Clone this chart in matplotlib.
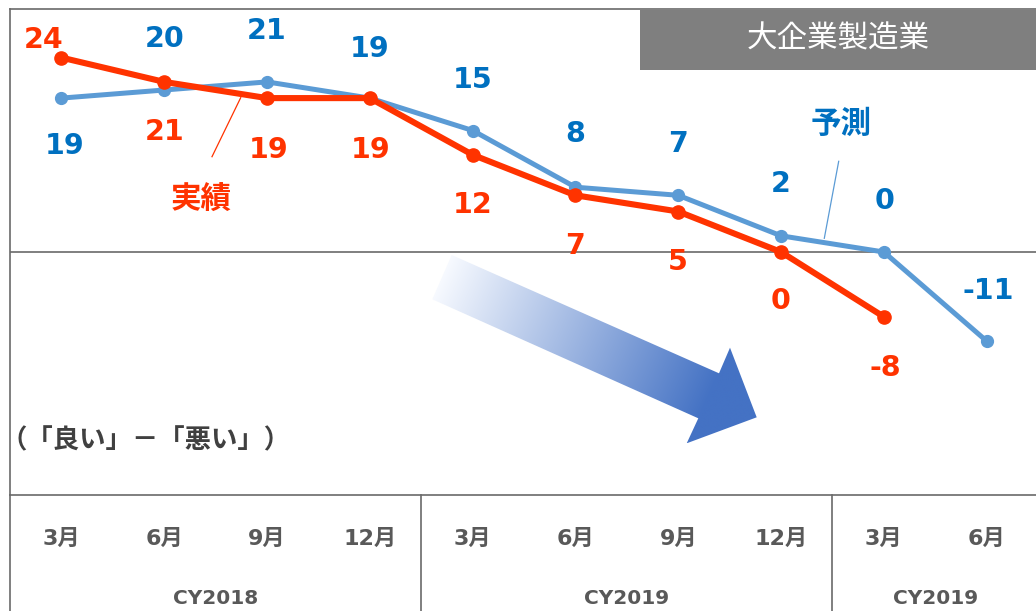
import numpy as np
import matplotlib
matplotlib.use("Agg")
import matplotlib.pyplot as plt
from matplotlib.patches import Polygon, Rectangle
from matplotlib.transforms import blended_transform_factory
from matplotlib.colors import to_rgb

plt.rcParams['font.family'] = ['DejaVu Sans', 'Noto Sans CJK JP']

# ---------------- data ----------------
months = ["3月", "6月", "9月", "12月", "3月", "6月", "9月", "12月", "3月", "6月"]
years = ["CY2018", "CY2019", "CY2019"]
year_spans = [(0, 3), (4, 7), (8, 9)]
actual = [24, 21, 19, 19, 12, 7, 5, 0, -8]
forecast = [19, 20, 21, 19, 15, 8, 7, 2, 0, -11]
title = "大企業製造業"
actual_name = "実績"
forecast_name = "予測"
y_note = "（「良い」－「悪い」）"

# ---------------- style ----------------
RED = "#FF3300"
BLUE_LINE = "#5B9BD5"
BLUE_TXT = "#0070C0"
GRID = "#6A6A6A"
TXT = "#595959"

# label offsets in pixels (dx, dy up)
act_off = [(-18, 18), (0, -50), (2, -52), (1, -52), (0, -50), (0, -51), (0, -51), (0, -49), (1, -51)]
fc_off = [(3, -48), (0, 51), (0, 51), (0, 49), (0, 51), (0, 53), (0, 51), (0, 52), (1, 51), (2, 50)]

W, H = 1036, 611
fig = plt.figure(figsize=(W / 100, H / 100), dpi=100)

# overlay for shapes in pixel coordinates
ov = fig.add_axes([0, 0, 1, 1], zorder=0)
ov.set_xlim(0, W)
ov.set_ylim(H, 0)
ov.axis('off')

ax = fig.add_axes([10 / W, (H - 495) / H, (W - 10) / W + 0.002, 486 / H], zorder=1)
ax.set_facecolor('none')
n = len(months)
ax.set_xlim(-0.5, n - 0.5)
ax.set_ylim(-30, 30)

x = np.arange(n)
ax.plot(x[:len(forecast)], forecast, color=BLUE_LINE, lw=3.6, marker='o', ms=8.5, zorder=3,
        solid_capstyle='round')
ax.plot(x[:len(actual)], actual, color=RED, lw=4.4, marker='o', ms=9.5, zorder=4,
        solid_capstyle='round')

for i, v in enumerate(actual):
    dx, dy = act_off[i]
    ax.annotate(str(v), (i, v), xytext=(dx, dy), textcoords='offset pixels',
                ha='center', va='center', color=RED, fontsize=20.5, fontweight='bold', zorder=5)
for i, v in enumerate(forecast):
    dx, dy = fc_off[i]
    ax.annotate(str(v), (i, v), xytext=(dx, dy), textcoords='offset pixels',
                ha='center', va='center', color=BLUE_TXT, fontsize=20.5, fontweight='bold', zorder=5)

ax.axhline(0, color=GRID, lw=1.2, zorder=2)
for s in ['right']:
    ax.spines[s].set_visible(False)
for s in ['top', 'left', 'bottom']:
    ax.spines[s].set_color(GRID)
    ax.spines[s].set_linewidth(1.2)
ax.set_yticks([])
ax.set_xticks(x)
ax.set_xticklabels(months, fontsize=16, fontweight='bold', color=TXT)
ax.tick_params(axis='x', length=0, pad=24.5)

# category area lines
bt = blended_transform_factory(ax.transData, ax.transAxes)
low = -(116 / 486) - 0.01
for xs in [-0.5, 3.5, 7.5]:
    ax.plot([xs, xs], [0, low], color=GRID, lw=1.2, transform=bt, clip_on=False)
for (a, b), yl in zip(year_spans, years):
    ax.text((a + b) / 2, -104 / 486, yl, transform=bt, ha='center', va='center',
            fontsize=14.5, fontweight='bold', color=TXT)

# y note
ov.text(1, 441, y_note, ha='left', va='center', fontsize=19, fontweight='bold',
        color="#404040", family=['Noto Sans CJK JP'])

# title box
ov.add_patch(Rectangle((640, 10), 400, 60, facecolor="#7F7F7F", edgecolor='none', zorder=6))
ov.text(838, 39, title, ha='center', va='center', fontsize=22, color='white',
        family=['Noto Sans CJK JP'], zorder=7)

# series name labels + leader lines
ov.plot([240.7, 212], [97.7, 156.7], color=RED, lw=0.9)
ov.text(201, 200, actual_name, ha='center', va='center', fontsize=22, fontweight='bold',
        color=RED, family=['Noto Sans CJK JP'])
ov.plot([838.7, 824.3], [161.3, 238.3], color=BLUE_LINE, lw=0.9)
ov.text(841, 124, forecast_name, ha='center', va='center', fontsize=22, fontweight='bold',
        color=BLUE_TXT, family=['Noto Sans CJK JP'])

# gradient arrow
pts = np.array([(451.7, 255), (719, 373.3), (730, 347.7), (756.7, 417.3),
                (686.7, 443.3), (698.3, 418.3), (432.3, 299.3)])
poly = Polygon(pts, closed=True, facecolor='none', edgecolor='none')
ov.add_patch(poly)
x0, x1 = pts[:, 0].min(), pts[:, 0].max()
y0, y1 = pts[:, 1].min(), pts[:, 1].max()
gx, gy = np.meshgrid(np.linspace(x0, x1, 400), np.linspace(y0, y1, 200))
p0 = np.array([442.0, 277.0])
p1 = np.array([756.7, 417.3])
d = p1 - p0
t = ((gx - p0[0]) * d[0] + (gy - p0[1]) * d[1]) / (d @ d)
t = np.clip(t / 0.85, 0, 1)
c0 = np.array([0.97, 0.98, 1.0])
c1 = np.array(to_rgb("#4472C4"))
img = c0[None, None, :] * (1 - t[..., None]) + c1[None, None, :] * t[..., None]
im = ov.imshow(img, extent=(x0, x1, y1, y0), origin='upper', aspect='auto', zorder=1)
im.set_clip_path(poly)
ov.set_xlim(0, W)
ov.set_ylim(H, 0)

fig.savefig("out.png", dpi=100)
